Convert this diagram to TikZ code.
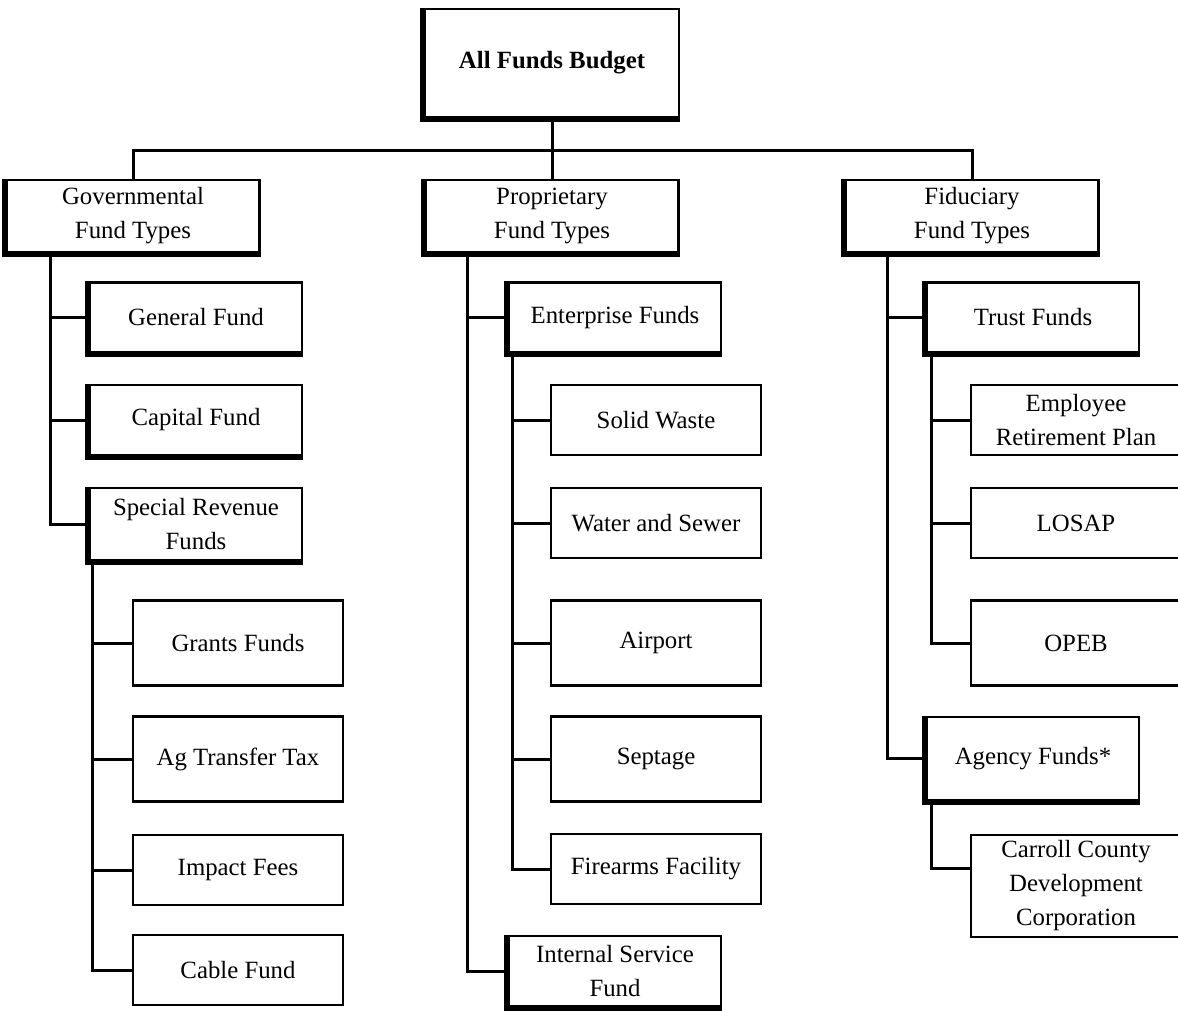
\documentclass[tikz,border=0pt]{standalone}
\usepackage{fontspec}
\setmainfont{Liberation Serif}

\tikzset{
  box/.style={draw, line width=1.1pt, align=center, inner sep=0pt, fill=white,
    font=\fontsize{12.4}{17}\selectfont},
  heavy/.style={box, append after command={\pgfextra{\draw[line width=3.8pt, line join=miter]
    (\tikzlastnode.north west) -- (\tikzlastnode.south west) -- (\tikzlastnode.south east);}}},
  lvl/.style={heavy, minimum width=126.5pt, minimum height=36pt},
  sub/.style={heavy, minimum width=106pt, minimum height=35pt},
  leaf/.style={box, minimum width=105pt, minimum height=35pt},
  tall/.style={minimum height=42.5pt},
  link/.style={line width=1.5pt}
}

\begin{document}
\begin{tikzpicture}[x=0.5pt,y=-0.5pt]
	\useasboundingbox (0,0) rectangle (1178,1011);
	\node[heavy, minimum width=127pt, minimum height=54pt, font=\fontsize{12.4}{17}\selectfont\bfseries] (root) at (552,63) {All Funds Budget};
	\node[lvl] (gov) at (133,216) {Governmental\\Fund Types};
	\node[lvl] (prop) at (552,216) {Proprietary\\Fund Types};
	\node[lvl] (fid) at (972,216) {Fiduciary\\Fund Types};
	\node[sub] (gen) at (196,317.5) {General Fund};
	\node[sub] (cap) at (196,420) {Capital Fund};
	\node[sub, minimum height=36pt] (spl) at (196,524) {Special Revenue\\Funds};
	\node[leaf, tall] (grt) at (238,643) {Grants Funds};
	\node[leaf, tall] (agt) at (238,759) {Ag Transfer Tax};
	\node[leaf] (imp) at (238,870) {Impact Fees};
	\node[leaf] (cab) at (238,970) {Cable Fund};
	\node[sub] (ent) at (615,317.5) {Enterprise Funds};
	\node[sub] (int) at (615,971) {Internal Service\\Fund};
	\node[leaf] (sw) at (656,420) {Solid Waste};
	\node[leaf] (ws) at (656,523) {Water and Sewer};
	\node[leaf, tall] (air) at (656,643) {Airport};
	\node[leaf, tall] (sep) at (656,759) {Septage};
	\node[leaf] (fire) at (656,869) {Firearms Facility};
	\node[sub] (tru) at (1033,317.5) {Trust Funds};
	\node[sub, minimum height=41.5pt] (agy) at (1033,758.5) {Agency Funds*};
	\node[leaf] (emp) at (1076,420) {Employee\\Retirement Plan};
	\node[leaf] (los) at (1076,523) {LOSAP};
	\node[leaf, tall] (opeb) at (1076,643) {OPEB};
	\node[leaf, minimum height=51pt] (car) at (1076,886) {Carroll County\\Development\\Corporation};
	\coordinate (govt) at (50,253);
	\coordinate (splt) at (92,561);
	\coordinate (propt) at (467,253);
	\coordinate (entt) at (512,353);
	\coordinate (fidt) at (887,253);
	\coordinate (trut) at (931,353);
	\coordinate (agyt) at (931,801);
	\draw[link] (root.south) -- ++(0,32) -| (gov.north);
	\draw[link] (root.south) -- ++(0,32) -| (fid.north);
	\draw[link] (root.south) -- (prop.north);
	\draw[link] (govt) |- (spl.west);
	\draw[link] (gen.west) -- (gen.west -| govt);
	\draw[link] (cap.west) -- (cap.west -| govt);
	\draw[link] (splt) |- (cab.west);
	\draw[link] (grt.west) -- (grt.west -| splt);
	\draw[link] (agt.west) -- (agt.west -| splt);
	\draw[link] (imp.west) -- (imp.west -| splt);
	\draw[link] (propt) |- (int.west);
	\draw[link] (ent.west) -- (ent.west -| propt);
	\draw[link] (entt) |- (fire.west);
	\draw[link] (sw.west) -- (sw.west -| entt);
	\draw[link] (ws.west) -- (ws.west -| entt);
	\draw[link] (air.west) -- (air.west -| entt);
	\draw[link] (sep.west) -- (sep.west -| entt);
	\draw[link] (fidt) |- (agy.west);
	\draw[link] (tru.west) -- (tru.west -| fidt);
	\draw[link] (trut) |- (opeb.west);
	\draw[link] (emp.west) -- (emp.west -| trut);
	\draw[link] (los.west) -- (los.west -| trut);
	\draw[link] (agyt) |- ([yshift=9pt]car.west);
\end{tikzpicture}
\end{document}
